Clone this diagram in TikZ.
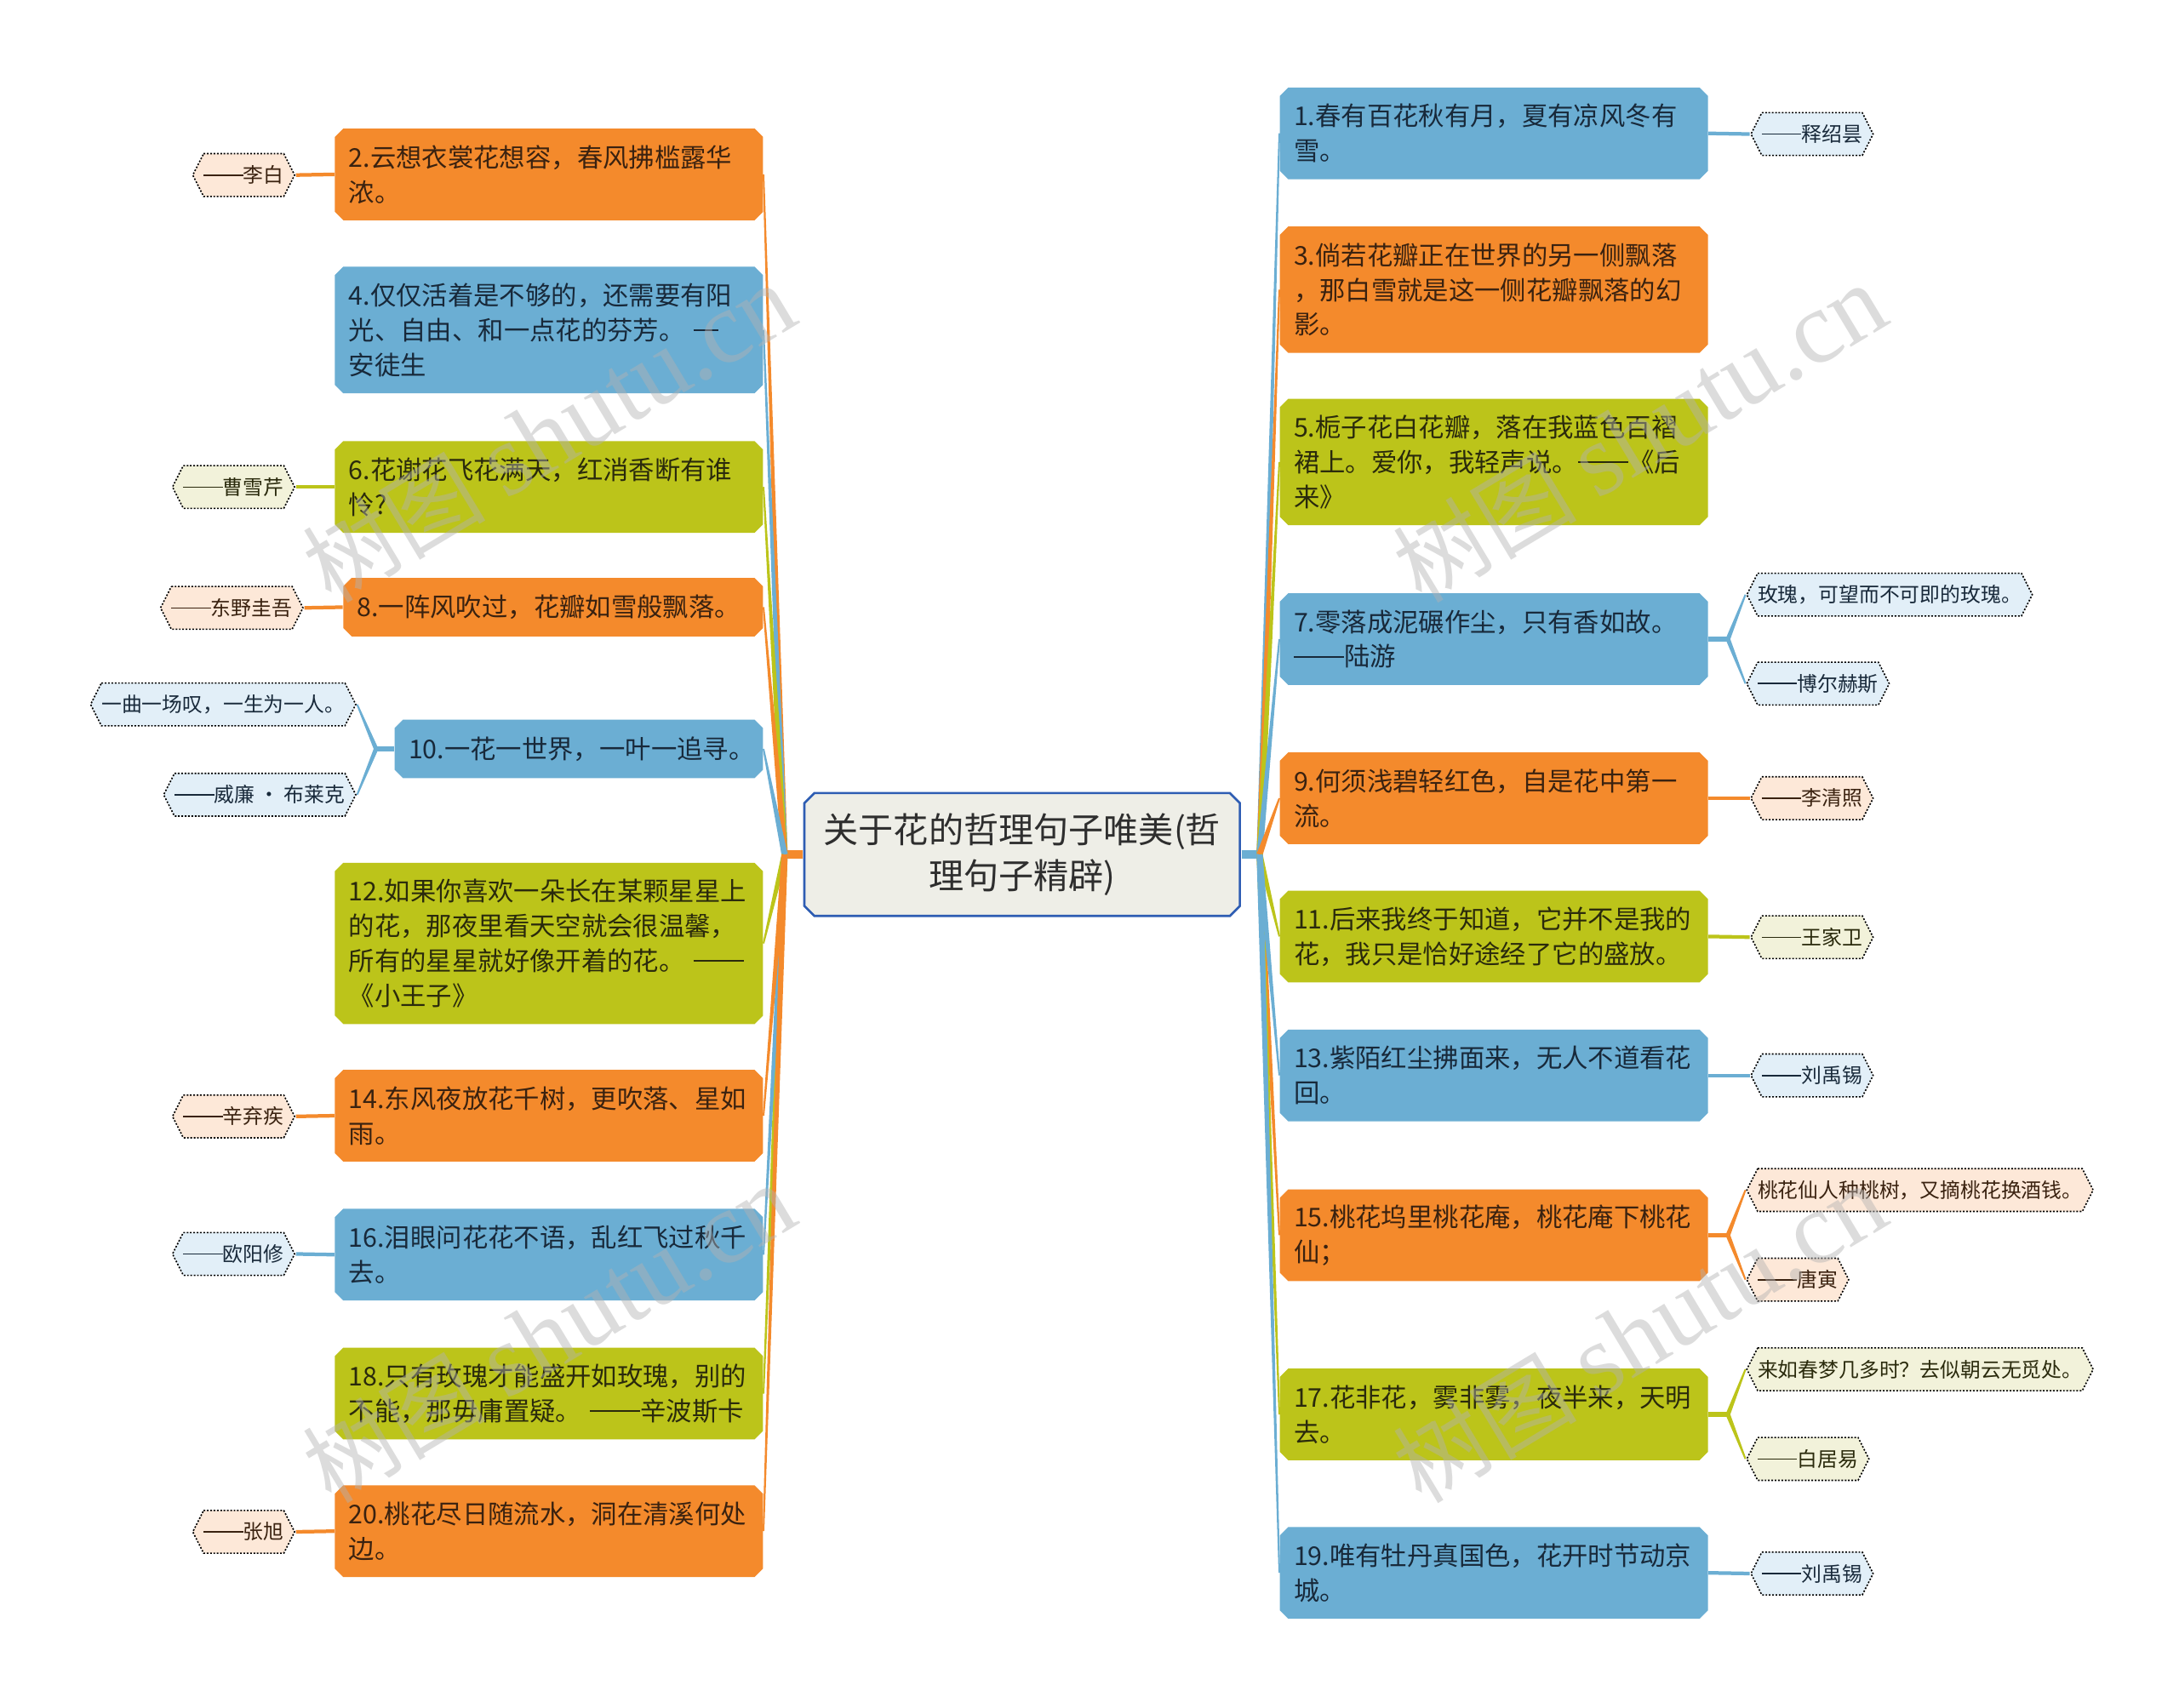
\documentclass[tikz,border=0pt]{standalone}
\usepackage{fontspec}
\setmainfont{Noto Sans CJK SC}
\newfontfamily\wmlatin{Liberation Serif}
\usetikzlibrary{calc}
\pgfdeclarelayer{paper}
\pgfdeclarelayer{edges}
\pgfsetlayers{paper,edges,main}
\definecolor{cor}{HTML}{F48A2C}
\definecolor{cbl}{HTML}{6BAED3}
\definecolor{cgr}{HTML}{BCC41A}
\definecolor{tor}{HTML}{3A2210}
\definecolor{tbl}{HTML}{18293A}
\definecolor{tgr}{HTML}{2A2A0C}
\definecolor{lor}{HTML}{FDE8D8}
\definecolor{lbl}{HTML}{E2EFF8}
\definecolor{lgr}{HTML}{F2F2DA}
\definecolor{cfill}{HTML}{EEEEE7}
\definecolor{cline}{HTML}{2E5DB3}
\newcommand\mybranchfont{\fontsize{9.3pt}{12.5pt}\selectfont}
\newcommand\myleaffont{\fontsize{7.3pt}{9pt}\selectfont}
\newcommand\myrootfont{\fontsize{12.6pt}{16.5pt}\selectfont}
\newcommand\ldash{\rule[0.34em]{1.95em}{0.07em}}
\newcommand\octshape[3]{\path[#1] ([xshift=#2,yshift=-#3]path picture bounding box.north west) -- ([xshift=-#2,yshift=-#3]path picture bounding box.north east) -- ([xshift=-#3,yshift=-#2]path picture bounding box.north east) -- ([xshift=-#3,yshift=#2]path picture bounding box.south east) -- ([xshift=-#2,yshift=#3]path picture bounding box.south east) -- ([xshift=#2,yshift=#3]path picture bounding box.south west) -- ([xshift=#3,yshift=#2]path picture bounding box.south west) -- ([xshift=#3,yshift=-#2]path picture bounding box.north west) -- cycle;}
\newcommand\hexshape[3]{\path[#1] ([xshift=#2,yshift=-#3]path picture bounding box.north west) -- ([xshift=-#2,yshift=-#3]path picture bounding box.north east) -- ([xshift=-#3]path picture bounding box.east) -- ([xshift=-#2,yshift=#3]path picture bounding box.south east) -- ([xshift=#2,yshift=#3]path picture bounding box.south west) -- ([xshift=#3]path picture bounding box.west) -- cycle;}
\newcommand\fanline[4]{\fill[#1] ($(#2)!#4!90:(#3)$) -- ($(#3)!0.3pt!-90:(#2)$) -- ($(#3)!0.3pt!90:(#2)$) -- ($(#2)!#4!-90:(#3)$) -- cycle;}
\tikzset{
  branchbox/.style n args={4}{rectangle, inner xsep=5pt, inner ysep=0pt, text width=#2, minimum height=#3, align=left, text=#4, font=\mybranchfont, path picture={\octshape{fill=#1}{3pt}{0pt}}},
  leafbox/.style 2 args={rectangle, inner xsep=4.2pt, inner ysep=0pt, minimum height=16pt, text=#2, font=\myleaffont, path picture={\hexshape{fill=#1,draw=black,line width=0.5pt,dash pattern=on 0.6pt off 0.6pt}{4.2pt}{0.3pt}}},
  rootbox/.style={rectangle, minimum width=157.5pt, minimum height=45pt, inner sep=0pt, align=center, text=black!82, font=\myrootfont, path picture={\octshape{fill=cfill,draw=cline,line width=0.8pt}{4pt}{0.4pt}}},
  wmark/.style={rotate=31, text=black!30, opacity=0.45, font=\fontsize{33pt}{33pt}\selectfont},
  leafline/.style={line width=1.3pt},
}
\begin{document}
\begin{tikzpicture}[x=0.5pt,y=-0.5pt]
\useasboundingbox (0,0) rectangle (1568,1229);
\begin{pgfonlayer}{paper}
\fill[white] (0,0) rectangle (1568,1229);
\end{pgfonlayer}
% root
\node[rootbox] (root) at (735.5,615) {关于花的哲理句子唯美(哲\\理句子精辟)};
% left branches
\node[branchbox={cor}{144pt}{33pt}{tor}] (b2) at (395,125.5) {2.云想衣裳花想容，春风拂槛露华\\浓。};
\node[branchbox={cbl}{144pt}{45.5pt}{tbl}] (b4) at (395,237.5) {4.仅仅活着是不够的，还需要有阳\\光、自由、和一点花的芬芳。~\rule[0.34em]{0.95em}{0.07em}\\安徒生};
\node[branchbox={cgr}{144pt}{33pt}{tgr}] (b6) at (395,350.5) {6.花谢花飞花满天，红消香断有谁\\怜?};
\node[branchbox={cor}{141pt}{21pt}{tor}] (b8) at (398,437) {8.一阵风吹过，花瓣如雪般飘落。};
\node[branchbox={cbl}{122.5pt}{21pt}{tbl}] (b10) at (416.5,539) {10.一花一世界，一叶一追寻。};
\node[branchbox={cgr}{144pt}{58pt}{tgr}] (b12) at (395,679) {12.如果你喜欢一朵长在某颗星星上\\的花，那夜里看天空就会很温馨，\\所有的星星就好像开着的花。~\ldash\\《小王子》};
\node[branchbox={cor}{144pt}{33pt}{tor}] (b14) at (395,803) {14.东风夜放花千树，更吹落、星如\\雨。};
\node[branchbox={cbl}{144pt}{33pt}{tbl}] (b16) at (395,903) {16.泪眼问花花不语，乱红飞过秋千\\去。};
\node[branchbox={cgr}{144pt}{33pt}{tgr}] (b18) at (395,1003) {18.只有玫瑰才能盛开如玫瑰，别的\\不能，那毋庸置疑。~\ldash 辛波斯卡};
\node[branchbox={cor}{144pt}{33pt}{tor}] (b20) at (395,1102) {20.桃花尽日随流水，洞在清溪何处\\边。};
% right branches
\node[branchbox={cbl}{144pt}{33pt}{tbl}] (b1) at (1075,96) {1.春有百花秋有月，夏有凉风冬有\\雪。};
\node[branchbox={cor}{144pt}{45.5pt}{tor}] (b3) at (1075,208.5) {3.倘若花瓣正在世界的另一侧飘落\\，那白雪就是这一侧花瓣飘落的幻\\影。};
\node[branchbox={cgr}{144pt}{45.5pt}{tgr}] (b5) at (1075,332.5) {5.栀子花白花瓣，落在我蓝色百褶\\裙上。爱你，我轻声说。\ldash《后\\来》};
\node[branchbox={cbl}{144pt}{33pt}{tbl}] (b7) at (1075,460) {7.零落成泥碾作尘，只有香如故。\\\ldash 陆游};
\node[branchbox={cor}{144pt}{33pt}{tor}] (b9) at (1075,574.5) {9.何须浅碧轻红色，自是花中第一\\流。};
\node[branchbox={cgr}{144pt}{33pt}{tgr}] (b11) at (1075,674) {11.后来我终于知道，它并不是我的\\花，我只是恰好途经了它的盛放。};
\node[branchbox={cbl}{144pt}{33pt}{tbl}] (b13) at (1075,774) {13.紫陌红尘拂面来，无人不道看花\\回。};
\node[branchbox={cor}{144pt}{33pt}{tor}] (b15) at (1075,889) {15.桃花坞里桃花庵，桃花庵下桃花\\仙；};
\node[branchbox={cgr}{144pt}{33pt}{tgr}] (b17) at (1075,1018) {17.花非花，雾非雾，夜半来，天明\\去。};
\node[branchbox={cbl}{144pt}{33pt}{tbl}] (b19) at (1075,1132) {19.唯有牡丹真国色，花开时节动京\\城。};
% left leaves
\node[leafbox={lor}{tor}, anchor=east] (l2) at (213,126) {\ldash 李白};
\node[leafbox={lgr}{tgr}, anchor=east] (l6) at (213,350.5) {\ldash 曹雪芹};
\node[leafbox={lor}{tor}, anchor=east] (l8) at (219,437.5) {\ldash 东野圭吾};
\node[leafbox={lbl}{tbl}, anchor=east] (l10a) at (257,507) {一曲一场叹，一生为一人。};
\node[leafbox={lbl}{tbl}, anchor=east] (l10b) at (257,572) {\ldash 威廉 · 布莱克};
\node[leafbox={lor}{tor}, anchor=east] (l14) at (213,803.5) {\ldash 辛弃疾};
\node[leafbox={lbl}{tbl}, anchor=east] (l16) at (213,902.5) {\ldash 欧阳修};
\node[leafbox={lor}{tor}, anchor=east] (l20) at (213,1102.5) {\ldash 张旭};
% right leaves
\node[leafbox={lbl}{tbl}, anchor=west] (r1) at (1259,96.5) {\ldash 释绍昙};
\node[leafbox={lbl}{tbl}, anchor=west] (r7a) at (1256,428) {玫瑰，可望而不可即的玫瑰。};
\node[leafbox={lbl}{tbl}, anchor=west] (r7b) at (1256,492) {\ldash 博尔赫斯};
\node[leafbox={lor}{tor}, anchor=west] (r9) at (1259,574.5) {\ldash 李清照};
\node[leafbox={lgr}{tgr}, anchor=west] (r11) at (1259,674.5) {\ldash 王家卫};
\node[leafbox={lbl}{tbl}, anchor=west] (r13) at (1259,774) {\ldash 刘禹锡};
\node[leafbox={lor}{tor}, anchor=west] (r15a) at (1256,856.5) {桃花仙人种桃树，又摘桃花换酒钱。};
\node[leafbox={lor}{tor}, anchor=west] (r15b) at (1256,921) {\ldash 唐寅};
\node[leafbox={lgr}{tgr}, anchor=west] (r17a) at (1256,985.5) {来如春梦几多时？去似朝云无觅处。};
\node[leafbox={lgr}{tgr}, anchor=west] (r17b) at (1256,1050) {\ldash 白居易};
\node[leafbox={lbl}{tbl}, anchor=west] (r19) at (1259,1132.5) {\ldash 刘禹锡};
% junctions
\coordinate (JL) at ($(root.west)+(-13,0)$);
\coordinate (JR) at ($(root.east)+(13,0)$);
\coordinate (K10) at ($(b10.west)+(-13,0)$);
\coordinate (K7) at ($(b7.east)+(14,0)$);
\coordinate (K15) at ($(b15.east)+(14,0)$);
\coordinate (K17) at ($(b17.east)+(14,0)$);
\begin{pgfonlayer}{edges}
% root stubs
\draw[cor, line width=3pt] (root.west) -- (JL);
\draw[cbl, line width=3pt] (root.east) -- (JR);
% left fans
\fanline{cor}{JL}{b2.east}{1.1pt}
\fanline{cbl}{JL}{b4.east}{1.1pt}
\fanline{cgr}{JL}{b6.east}{1.1pt}
\fanline{cor}{JL}{b8.east}{1.1pt}
\fanline{cbl}{JL}{b10.east}{1.1pt}
\fanline{cgr}{JL}{b12.east}{1.1pt}
\fanline{cgr}{JL}{b18.east}{1.1pt}
\fanline{cbl}{JL}{b16.east}{1.1pt}
\fanline{cor}{JL}{b20.east}{1.1pt}
\fanline{cor}{JL}{b14.east}{1.1pt}
% right fans
\fanline{cbl}{JR}{b1.west}{1.1pt}
\fanline{cor}{JR}{b3.west}{1.1pt}
\fanline{cgr}{JR}{b5.west}{1.1pt}
\fanline{cbl}{JR}{b7.west}{1.1pt}
\fanline{cor}{JR}{b9.west}{1.1pt}
\fanline{cgr}{JR}{b11.west}{1.1pt}
\fanline{cor}{JR}{b15.west}{1.1pt}
\fanline{cgr}{JR}{b17.west}{1.1pt}
\fanline{cbl}{JR}{b19.west}{1.1pt}
\fanline{cbl}{JR}{b13.west}{1.1pt}
% single leaves
\draw[cor, leafline] (b2.west) -- (l2.east);
\draw[cgr, leafline] (b6.west) -- (l6.east);
\draw[cor, leafline] (b8.west) -- (l8.east);
\draw[cor, leafline] (b14.west) -- (l14.east);
\draw[cbl, leafline] (b16.west) -- (l16.east);
\draw[cor, leafline] (b20.west) -- (l20.east);
\draw[cbl, leafline] (b1.east) -- (r1.west);
\draw[cor, leafline] (b9.east) -- (r9.west);
\draw[cgr, leafline] (b11.east) -- (r11.west);
\draw[cbl, leafline] (b13.east) -- (r13.west);
\draw[cbl, leafline] (b19.east) -- (r19.west);
% double leaves
\draw[cbl, line width=1.6pt] (b10.west) -- (K10);
\fanline{cbl}{K10}{l10a.east}{0.8pt}
\fanline{cbl}{K10}{l10b.east}{0.8pt}
\draw[cbl, line width=1.6pt] (b7.east) -- (K7);
\fanline{cbl}{K7}{r7a.west}{0.8pt}
\fanline{cbl}{K7}{r7b.west}{0.8pt}
\draw[cor, line width=1.6pt] (b15.east) -- (K15);
\fanline{cor}{K15}{r15a.west}{0.8pt}
\fanline{cor}{K15}{r15b.west}{0.8pt}
\draw[cgr, line width=1.6pt] (b17.east) -- (K17);
\fanline{cgr}{K17}{r17a.west}{0.8pt}
\fanline{cgr}{K17}{r17b.west}{0.8pt}
\end{pgfonlayer}
% watermarks
\node[wmark] (wm1) at (395,312) {树图 {\wmlatin\fontsize{37pt}{37pt}\selectfont shutu.cn}};
\node[wmark] (wm2) at (1180,312) {树图 {\wmlatin\fontsize{37pt}{37pt}\selectfont shutu.cn}};
\node[wmark] (wm3) at (395,960) {树图 {\wmlatin\fontsize{37pt}{37pt}\selectfont shutu.cn}};
\node[wmark] (wm4) at (1180,960) {树图 {\wmlatin\fontsize{37pt}{37pt}\selectfont shutu.cn}};
\end{tikzpicture}
\end{document}
